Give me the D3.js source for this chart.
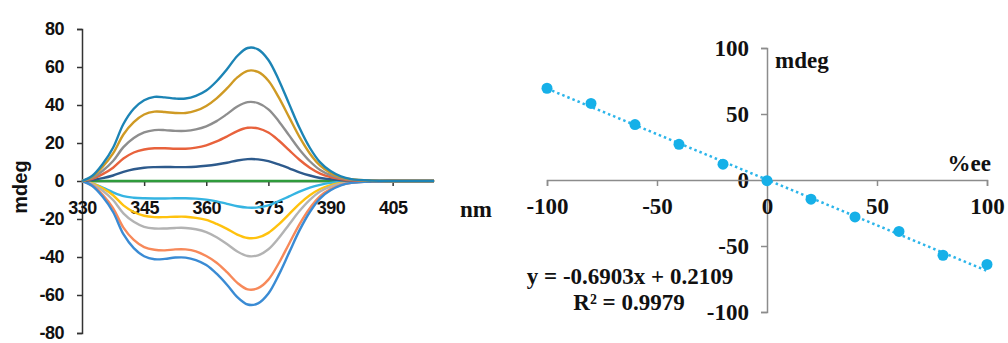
<!DOCTYPE html>
<meta charset="utf-8">
<style>
    body {
        margin: 0;
        padding: 0;
        background: #fff;
    }

    svg {
        display: block;
    }

    .lines path {
        fill: none;
        stroke-width: 2.4px;
    }

    .axL path,
    .axL line {
        stroke: #333;
        stroke-width: 1.5px;
    }

    .axR path,
    .axR line {
        stroke: #8c8c8c;
        stroke-width: 1.5px;
    }
</style>
<svg width="1008" height="343"></svg>
<script src="https://cdnjs.cloudflare.com/ajax/libs/d3/7.8.5/d3.min.js"></script>
<script>
    // ---- left panel: CD spectra ----
    var wavelengths = [330, 332.5, 335, 337.5, 340, 342.5, 345, 347.5, 350, 352.5, 355, 357.5, 360, 362.5, 365,
        367.5, 370, 372.5, 375, 377.5, 380, 382.5, 385, 387.5, 390, 392.5, 395, 400, 405, 415];

    var specZero = [0, 0, 0, 0, 0, 0, 0, 0, 0, 0, 0, 0, 0, 0, 0, 0, 0, 0, 0, 0, 0, 0, 0, 0, 0, 0, 0, 0, 0, 0];
    var specPos1 = [0, 2.8, 9, 17.5, 30, 38, 42.5, 44.3, 44, 43.4, 43.4, 44.8, 47.6, 52.5, 58.8, 65.8, 70, 69.3, 63.7, 53.2, 40.6, 28, 17.5, 9.8, 5.2, 2.4, 1, 0.2, 0, 0];
    var specPos2 = [0, 2.3, 7.5, 14.5, 24.5, 31, 35, 36.5, 36.3, 35.8, 35.8, 37, 39.5, 43.5, 48.7, 54.5, 58, 57.4, 52.8, 44, 33.6, 23.2, 14.5, 8.1, 4.3, 2, 0.9, 0.2, 0, 0];
    var specPos3 = [0, 1.7, 5.4, 10.5, 17.8, 22.6, 25.6, 26.8, 26.8, 26.4, 26.4, 27.2, 28.8, 31.5, 35.2, 39.2, 41.5, 41, 37.7, 31.5, 24, 16.6, 10.4, 5.8, 3.1, 1.5, 0.6, 0.1, 0, 0];
    var specPos4 = [0, 1.1, 3.6, 7, 11.8, 15, 16.6, 17.2, 17.2, 17, 17, 17.6, 18.8, 20.8, 23.4, 26.3, 28, 27.7, 25.5, 21.3, 16.2, 11.2, 7, 3.9, 2.1, 1, 0.4, 0.1, 0, 0];
    var specPos5 = [0, 0.5, 1.5, 2.9, 4.8, 6.2, 7, 7.3, 7.4, 7.3, 7.3, 7.5, 8, 8.7, 9.6, 10.8, 11.5, 11.4, 10.5, 8.7, 6.7, 4.6, 2.9, 1.6, 0.9, 0.4, 0.2, 0, 0, 0];
    var specNeg1 = [0, -1.2, -3.5, -6, -8, -8.8, -9.1, -9.2, -9.2, -9.1, -9.1, -9.3, -9.8, -10.7, -12, -13.3, -14, -13.9, -12.8, -10.6, -8.1, -5.6, -3.5, -2, -1, -0.5, -0.2, 0, 0, 0];
    var specNeg2 = [0, -1.2, -3.8, -7.5, -12.8, -16.3, -18.3, -19, -19, -18.8, -18.8, -19.4, -20.5, -22.6, -25.2, -28.2, -30, -29.7, -27.3, -22.8, -17.4, -12, -7.5, -4.2, -2.2, -1, -0.4, -0.1, 0, 0];
    var specNeg3 = [0, -1.6, -5.1, -10, -17, -21.5, -24.1, -25, -25, -24.7, -24.7, -25.4, -26.9, -29.6, -33.2, -37.1, -39.5, -39.1, -35.9, -30, -22.9, -15.8, -9.9, -5.5, -3, -1.4, -0.6, -0.1, 0, 0];
    var specNeg4 = [0, -2.3, -7.3, -14.3, -24.5, -31, -34.8, -36.2, -36.5, -36, -36, -37, -39.5, -43, -48, -53.6, -57, -56.4, -51.9, -43.3, -33, -22.8, -14.3, -8, -4.3, -2, -0.9, -0.2, 0, 0];
    var specNeg5 = [0, -2.6, -8.3, -16.3, -28, -35.3, -39.6, -41.2, -41, -40.3, -40.3, -41.6, -44.2, -48.8, -54.6, -61.1, -65, -64.4, -59.2, -49.4, -37.7, -26, -16.3, -9.1, -4.9, -2.3, -1, -0.2, 0, 0];

    // drawing order: zero first, top teal last
    var spectra = [specZero, specNeg1, specNeg2, specNeg3, specNeg4, specNeg5, specPos5, specPos4, specPos3, specPos2, specPos1];
    var specColors = ["#2f9b3c", "#35b4e2", "#ffc20e", "#b3b3b3", "#f7895a", "#3a8bd4", "#2d5a8c", "#e8623c", "#8e8e8e", "#cf9a24", "#1c84b5"];

    var leftYTicks = [-80, -60, -40, -20, 0, 20, 40, 60, 80];
    var leftXTicks = [330, 345, 360, 375, 390, 405];

    // ---- right panel: %ee calibration ----
    var eeValues = [-100, -80, -60, -40, -20, 0, 20, 40, 60, 80, 100];
    var mdegValues = [69.5, 58, 42, 27, 12, -0.5, -14.5, -28, -39, -57, -64];
    var fitSlope = -0.6903;
    var fitIntercept = 0.2109;
    var rightTicks = [-100, -50, 0, 50, 100];

    var SANS = "'Liberation Sans'";
    var SERIF = "'Liberation Serif'";

    var svg = d3.select("svg");
    var plain = function(d) {
        return String(d); // hyphen minus like the original
    };

    // left scales
    var xL = d3.scaleLinear().domain([330, 414.5]).range([82, 432]);
    var yL = d3.scaleLinear().domain([-80, 80]).range([333, 29]);

    svg.append("g")
        .attr("class", "axL")
        .attr("transform", "translate(" + xL(330) + ",0)")
        .call(d3.axisLeft(yL).tickValues(leftYTicks).tickFormat(plain).tickSize(5).tickSizeOuter(5).tickPadding(13));

    var axLX = svg.append("g")
        .attr("class", "axL")
        .attr("transform", "translate(0," + yL(0) + ")")
        .call(d3.axisBottom(xL).tickValues(leftXTicks).tickFormat(plain).tickSize(5).tickSizeOuter(0).tickPadding(15));
    axLX.selectAll(".tick line").filter(function(d) {
        return d == 330;
    }).remove();

    svg.selectAll(".axL").attr("font-family", null).attr("font-size", null);
    svg.selectAll(".axL text")
        .style("font-family", SANS)
        .style("font-weight", "bold")
        .style("font-size", "18px")
        .style("letter-spacing", "-0.5px")
        .style("fill", "#111");

    var line = d3.line()
        .x(function(d, i) {
            return xL(wavelengths[i]);
        })
        .y(function(d) {
            return yL(d);
        })
        .curve(d3.curveCatmullRom);

    svg.append("g")
        .attr("class", "lines")
        .selectAll("path")
        .data(spectra)
        .enter().append("path")
        .attr("d", line)
        .attr("stroke", function(d, i) {
            return specColors[i];
        });

    svg.append("text")
        .attr("transform", "translate(27,187) rotate(-90)")
        .attr("text-anchor", "middle")
        .style("font-family", SANS)
        .style("font-weight", "bold")
        .style("font-size", "20px")
        .style("fill", "#111")
        .text("mdeg");

    // right scales
    var xR = d3.scaleLinear().domain([-100, 100]).range([547, 987]);
    var yR = d3.scaleLinear().domain([-100, 100]).range([312, 48]);

    svg.append("g")
        .attr("class", "axR")
        .attr("transform", "translate(" + xR(0) + ",0)")
        .call(d3.axisLeft(yR).tickValues(rightTicks).tickFormat(plain).tickSize(6).tickSizeOuter(6).tickPadding(12));

    svg.append("g")
        .attr("class", "axR")
        .attr("transform", "translate(0," + yR(0) + ")")
        .call(d3.axisBottom(xR).tickValues(rightTicks).tickFormat(plain).tickSize(6).tickSizeOuter(6).tickPadding(12));

    svg.selectAll(".axR").attr("font-family", null).attr("font-size", null);
    svg.selectAll(".axR text")
        .style("font-family", SERIF)
        .style("font-weight", "bold")
        .style("font-size", "23px")
        .style("fill", "#111");

    svg.append("line")
        .attr("x1", xR(-100))
        .attr("y1", yR(fitSlope * -100 + fitIntercept))
        .attr("x2", xR(100))
        .attr("y2", yR(fitSlope * 100 + fitIntercept))
        .attr("stroke", "#2cb5ea")
        .attr("stroke-width", 2.5)
        .attr("stroke-dasharray", "2.5,3");

    svg.append("g")
        .selectAll("circle")
        .data(eeValues)
        .enter().append("circle")
        .attr("cx", function(d) {
            return xR(d);
        })
        .attr("cy", function(d, i) {
            return yR(mdegValues[i]);
        })
        .attr("r", 5.5)
        .attr("fill", "#16b0e8");

    var serifText = function(x, y, anchor, txt) {
        return svg.append("text")
            .attr("x", x)
            .attr("y", y)
            .attr("text-anchor", anchor)
            .style("font-family", SERIF)
            .style("font-weight", "bold")
            .style("font-size", "23px")
            .style("fill", "#111")
            .text(txt);
    };

    serifText(476, 217, "middle", "nm");
    serifText(775, 68, "start", "mdeg");
    serifText(991, 171, "end", "%ee");
    serifText(630, 284, "middle", "y = -0.6903x + 0.2109");
    serifText(629, 310, "middle", "R² = 0.9979");
</script>
